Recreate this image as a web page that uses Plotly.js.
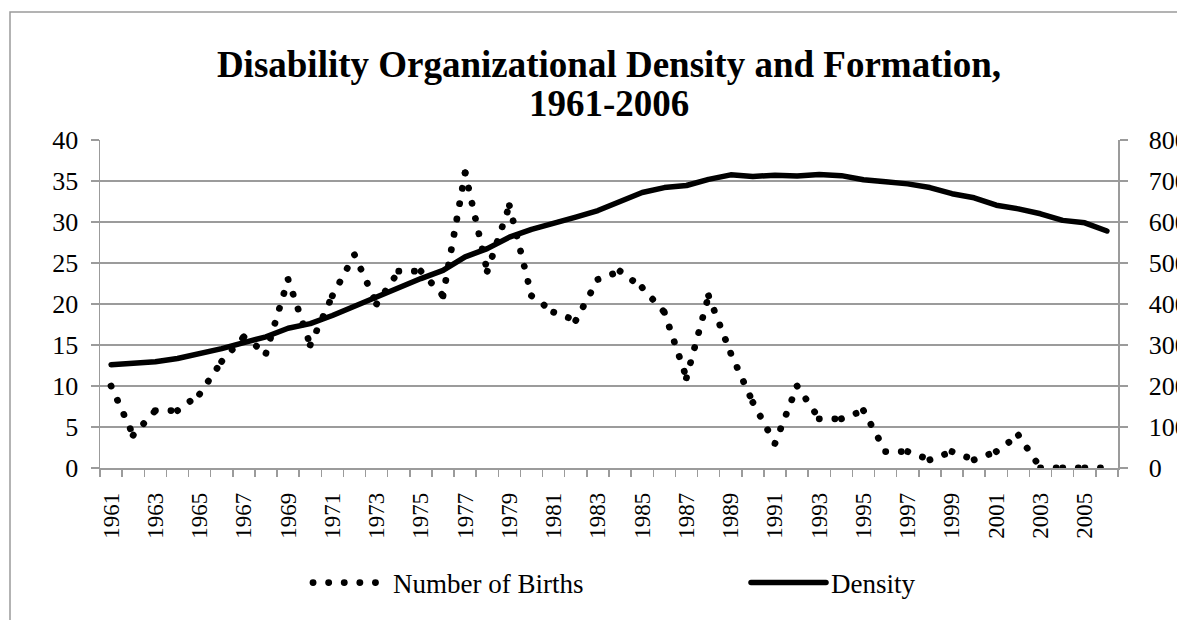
<!DOCTYPE html>
<html>
<head>
<meta charset="utf-8">
<script src="https://cdn.plot.ly/plotly-3.0.1.min.js"></script>
<style>
  html, body { margin: 0; padding: 0; background: #fff; }
  #chart { width: 1177px; height: 620px; }
  .js-line { stroke-linecap: round; stroke-linejoin: round; }
</style>
</head>
<body>
<div id="chart"></div>
<script>
const years = [1961,1962,1963,1964,1965,1966,1967,1968,1969,1970,1971,1972,1973,1974,1975,1976,1977,1978,1979,1980,1981,1982,1983,1984,1985,1986,1987,1988,1989,1990,1991,1992,1993,1994,1995,1996,1997,1998,1999,2000,2001,2002,2003,2004,2005,2006];
const births = [10,4,7,7,9,13,16,14,23,15,21,26,20,24,24,21,36,24,32,21,19,18,23,24,22,19,11,21,14,8,3,10,6,6,7,2,2,1,2,1,2,4,0,0,0,0];
const density = [252,254,259,267,278,291,306,320,341,352,372,395,417,440,462,482,515,535,563,582,596,612,628,649,672,684,689,704,715,711,714,712,716,713,703,698,693,684,669,659,641,632,620,604,598,578];
const labelYears = years.filter((y, i) => i % 2 === 0);
const labelText = labelYears.map(String);

const serif = 'Liberation Serif, Times New Roman, serif';
const grey = '#9b9b9b';

// The round-dot line is drawn one year-to-year segment at a time, so that
// (as in the original spreadsheet chart) every data point starts with a dot.
const traces = [];
for (let i = 0; i < years.length - 1; i++) {
  traces.push({
    x: [years[i], years[i + 1]], y: [births[i], births[i + 1]],
    type: 'scatter', mode: 'lines', name: 'Number of Births',
    legendgroup: 'births', showlegend: i === 0,
    line: { color: '#000', width: 6.8, dash: '0.1px,15.5px' },
    legend: 'legend', hoverinfo: 'skip'
  });
}
traces.push({
  x: years, y: density, type: 'scatter', mode: 'lines', name: 'Density', yaxis: 'y2',
  line: { color: '#000', width: 5.5 },
  legend: 'legend2', hoverinfo: 'skip'
});

const layout = {
  width: 1177, height: 620,
  margin: { l: 100, r: 59, t: 140, b: 152 },
  paper_bgcolor: '#fff', plot_bgcolor: '#fff',
  showlegend: true,
  title: {
    text: 'Disability Organizational Density and Formation,',
    font: { family: serif, size: 37, color: '#000', weight: 'bold' },
    x: 0.5, xref: 'paper', xanchor: 'center',
    y: 1 - 64 / 620, yref: 'container', yanchor: 'middle'
  },
  annotations: [{
    text: '1961-2006', showarrow: false,
    font: { family: serif, size: 37, color: '#000', weight: 'bold' },
    x: 0.5, xref: 'paper', xanchor: 'center',
    y: (468 - 104) / 328, yref: 'paper', yanchor: 'middle'
  }],
  xaxis: {
    type: 'linear', range: [1960.5, 2006.5], fixedrange: true,
    tickmode: 'array', tickvals: labelYears, ticktext: labelText,
    tickangle: -90, ticks: '', ticklabelstandoff: 14,
    tickfont: { family: serif, size: 23, color: '#000' },
    showline: true, linecolor: grey, linewidth: 1.5,
    showgrid: false, zeroline: false,
    minor: { ticks: 'outside', ticklen: 7, tickwidth: 1.5, tickcolor: grey, tick0: 1960.5, dtick: 1, showgrid: false }
  },
  yaxis: {
    range: [0, 40], dtick: 5, fixedrange: true,
    showgrid: true, gridcolor: grey, gridwidth: 1.4,
    showline: true, linecolor: grey, linewidth: 1.5,
    ticks: 'outside', ticklen: 8, tickwidth: 1.5, tickcolor: grey,
    ticklabelstandoff: 7,
    tickfont: { family: serif, size: 26, color: '#000' },
    zeroline: false
  },
  yaxis2: {
    range: [0, 800], dtick: 100, overlaying: 'y', side: 'right', fixedrange: true,
    showgrid: false, showline: true, linecolor: grey, linewidth: 1.5,
    ticks: 'outside', ticklen: 8, tickwidth: 1.5, tickcolor: grey,
    ticklabelstandoff: 16,
    tickfont: { family: serif, size: 26, color: '#000' },
    zeroline: false
  },
  legend: {
    orientation: 'h', x: (308 - 100) / 1018, xanchor: 'left',
    y: (468 - 583) / 328, yanchor: 'middle',
    font: { family: serif, size: 27, color: '#000' },
    itemwidth: 75, bgcolor: 'rgba(0,0,0,0)'
  },
  legend2: {
    orientation: 'h', x: (746 - 100) / 1018, xanchor: 'left',
    y: (468 - 583) / 328, yanchor: 'middle',
    font: { family: serif, size: 27, color: '#000' },
    itemwidth: 75, bgcolor: 'rgba(0,0,0,0)'
  },
  shapes: [{
    type: 'rect', xref: 'paper', yref: 'paper', layer: 'below',
    x0: (10 - 100) / 1018, x1: 1.4, y0: -1, y1: (468 - 12) / 328,
    line: { color: grey, width: 1.5 }, fillcolor: 'rgba(0,0,0,0)'
  }]
};

Plotly.newPlot('chart', traces, layout, { displayModeBar: false, staticPlot: true });
</script>
</body>
</html>
